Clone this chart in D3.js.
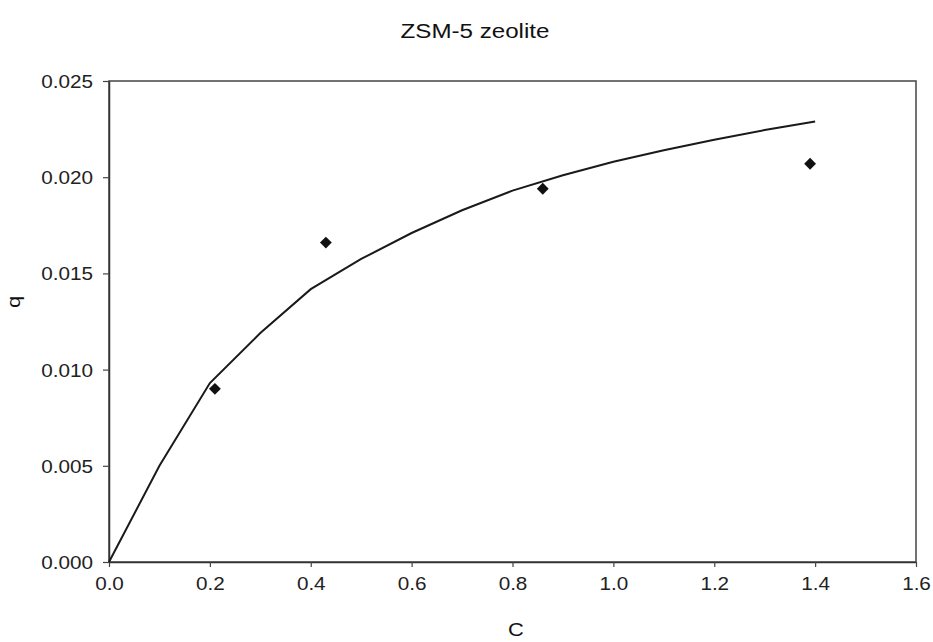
<!DOCTYPE html>
<html>
<head>
<meta charset="utf-8">
<script src="https://cdn.jsdelivr.net/npm/d3@7"></script>
<style>
  body { margin: 0; background: #fff; }
  svg { display: block; font-family: "Liberation Sans", Arial, sans-serif; }
</style>
</head>
<body>
<svg id="chart" width="933" height="642"></svg>
<script>
// Measured adsorption data: liquid concentration C vs. loading q
const measuredC = [0.21, 0.43, 0.86, 1.39];
const measuredQ = [0.0090, 0.0166, 0.0194, 0.0207];

// Fitted isotherm curve, sampled every 0.1 in C
const fitC = [0.0, 0.1, 0.2, 0.3, 0.4, 0.5, 0.6, 0.7, 0.8, 0.9, 1.0, 1.1, 1.2, 1.3, 1.4];
const fitQ = [0.0, 0.00500, 0.00930, 0.01190, 0.01418, 0.01575, 0.01710, 0.01828, 0.01930, 0.02010, 0.02080, 0.02140, 0.02195, 0.02245, 0.02290];

// Axis ticks
const xTicks = [0.0, 0.2, 0.4, 0.6, 0.8, 1.0, 1.2, 1.4, 1.6];
const yTicks = [0.000, 0.005, 0.010, 0.015, 0.020, 0.025];

const titleText = "ZSM-5 zeolite";
const xLabel = "C";
const yLabel = "q";

const svg = d3.select("#chart");
const plot = { left: 109, right: 916, top: 81, bottom: 562 };
const stretch = 1.15;

const x = d3.scaleLinear().domain([0, 1.6]).range([plot.left, plot.right]);
const y = d3.scaleLinear().domain([0, 0.025]).range([plot.bottom, plot.top]);

// Plot frame
svg.append("rect")
  .attr("x", plot.left).attr("y", plot.top)
  .attr("width", plot.right - plot.left).attr("height", plot.bottom - plot.top)
  .attr("fill", "none").attr("stroke", "#444").attr("stroke-width", 1.5);

// Axes
const xAxis = svg.append("g")
  .attr("transform", `translate(0,${plot.bottom})`)
  .call(d3.axisBottom(x).tickValues(xTicks).tickFormat(d3.format(".1f")).tickSizeInner(5).tickSizeOuter(0).tickPadding(10));
const yAxis = svg.append("g")
  .attr("transform", `translate(${plot.left},0)`)
  .call(d3.axisLeft(y).tickValues(yTicks).tickFormat(d3.format(".3f")).tickSizeInner(6).tickSizeOuter(0).tickPadding(8));

[xAxis, yAxis].forEach(g => {
  g.select(".domain").attr("stroke", "#333").attr("stroke-width", 1.5);
  g.selectAll(".tick line").attr("stroke", "#444").attr("stroke-width", 1.2);
  g.selectAll(".tick text")
    .attr("font-size", 18)
    .attr("font-family", "Liberation Sans, Arial, sans-serif")
    .attr("fill", "#222")
    .attr("transform", `scale(${stretch},1)`);
});
yAxis.selectAll(".tick text").attr("dy", "0.36em");

// Fitted curve
const line = d3.line().x((d, i) => x(fitC[i])).y(d => y(d));
svg.append("path")
  .datum(fitQ)
  .attr("d", line)
  .attr("fill", "none")
  .attr("stroke", "#1a1a1a")
  .attr("stroke-width", 2);

// Measured points as diamonds (squares turned 45 degrees)
const marker = d3.symbol().type(d3.symbolSquare).size(70);
svg.selectAll(".pt")
  .data(measuredQ)
  .join("path")
  .attr("class", "pt")
  .attr("transform", (d, i) => `translate(${x(measuredC[i])},${y(d)}) rotate(45)`)
  .attr("d", marker)
  .attr("fill", "#111");

// Title and axis labels
svg.append("text")
  .attr("transform", `translate(475,38) scale(${stretch},1)`)
  .attr("text-anchor", "middle")
  .attr("font-size", 21)
  .attr("fill", "#111")
  .text(titleText);

svg.append("text")
  .attr("transform", `translate(516,636) scale(${stretch},1)`)
  .attr("text-anchor", "middle")
  .attr("font-size", 19)
  .attr("fill", "#111")
  .text(xLabel);

svg.append("text")
  .attr("transform", `translate(20,302) rotate(-90) scale(${stretch},1)`)
  .attr("text-anchor", "middle")
  .attr("font-size", 19)
  .attr("fill", "#111")
  .text(yLabel);
</script>
</body>
</html>
